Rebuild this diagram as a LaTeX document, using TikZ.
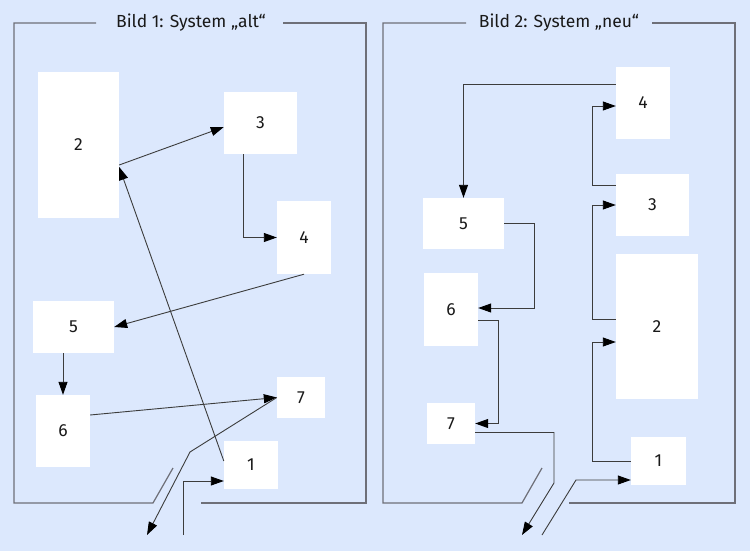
\documentclass[tikz,border=0pt]{standalone}
\usepackage{fontspec}
\setmainfont{Fira Sans}
\usetikzlibrary{arrows.meta}
\definecolor{bgblue}{HTML}{DCE8FD}
\definecolor{framegray}{HTML}{6E6F78}
\definecolor{linegray}{HTML}{3C3C3C}
\begin{document}
\begin{tikzpicture}[x=1pt,y=-1pt,
        box/.style={fill=white,inner sep=0pt,text=black!90,font=\fontsize{17.5}{20}\selectfont},
        frame/.style={draw=framegray,line width=1.2pt},
        conn/.style={draw=linegray,line width=0.9pt,-{Triangle[length=13pt,width=9pt,color=black]}},
        title/.style={font=\fontsize{17.5}{20}\selectfont,text=black!90,inner sep=0pt}]
        \fill[bgblue] (0,0) rectangle (750,551);
        \useasboundingbox (0,0) rectangle (750,551);
        \node[title] (t1) at (191,23) {Bild 1: System „alt“};
        \node[title] (t2) at (559,23) {Bild 2: System „neu“};
        \draw[frame] (96,23) -| (14,503) -- (153,503) -- (173,468);
        \draw[frame] (283,23) -| (366,503) -- (201,503);
        \draw[frame] (466,23) -| (383,503) -- (522,503) -- (542,468);
        \draw[frame] (652,23) -| (735,503) -- (569,503);
        \node[box,minimum width=81pt,minimum height=146pt] (l2) at (78.5,145) {2};
        \node[box,minimum width=73pt,minimum height=62pt] (l3) at (260.5,123) {3};
        \node[box,minimum width=54pt,minimum height=73pt] (l4) at (304,237.5) {4};
        \node[box,minimum width=81pt,minimum height=52pt] (l5) at (73.5,327) {5};
        \node[box,minimum width=54pt,minimum height=72pt] (l6) at (63,431) {6};
        \node[box,minimum width=48pt,minimum height=41pt] (l7) at (301,397.5) {7};
        \node[box,minimum width=54pt,minimum height=48pt] (l1) at (251,465) {1};
        \coordinate (lbend) at (190,452);
        \coordinate (lout) at (147,535);
        \coordinate (lin) at (183,535);
        \draw[conn] ([yshift=-20pt]l2.east) -- ([yshift=-4pt]l3.west);
        \draw[conn] ([xshift=-17.5pt]l3.south) |- (l4.west);
        \draw[conn] (l4.south) -- (l5.east);
        \draw[conn] (l5.south -| l6.north) -- (l6.north);
        \draw[conn] ([yshift=16pt]l6.east) -- (l7.west);
        \draw[conn] ([yshift=4pt]l1.west) -- ([yshift=-22pt]l2.east);
        \draw[conn] (l7.west) -- (lbend) -- (lout);
        \draw[conn] (lin) |- ([yshift=-16pt]l1.west);
        \node[box,minimum width=54pt,minimum height=72pt] (r4) at (643,103) {4};
        \node[box,minimum width=73pt,minimum height=62pt] (r3) at (652.5,205) {3};
        \node[box,minimum width=82pt,minimum height=145pt] (r2) at (657,326.5) {2};
        \node[box,minimum width=81pt,minimum height=51pt] (r5) at (463.5,223.5) {5};
        \node[box,minimum width=54pt,minimum height=73pt] (r6) at (451,309.5) {6};
        \node[box,minimum width=48pt,minimum height=41pt] (r7) at (451,423.5) {7};
        \node[box,minimum width=55pt,minimum height=48pt] (r1) at (658.5,461) {1};
        \coordinate (rbend) at (554,483);
        \coordinate (rout) at (522,535);
        \coordinate (rin) at (542,535);
        \coordinate (rturn) at (576,480);
        \draw[conn] ([yshift=19pt]r4.west) -| (r5.north);
        \draw[conn] ([yshift=20pt]r3.west) -- ++(-23,0) |- ([yshift=-3pt]r4.west);
        \draw[conn] ([yshift=7.5pt]r2.west) -- ++(-23,0) |- (r3.west);
        \draw[conn] (r1.west) -- ++(-38,0) |- ([yshift=-15.5pt]r2.west);
        \draw[conn] (r5.east) -- ++(30,0) |- ([yshift=1.5pt]r6.east);
        \draw[conn] ([yshift=-10.5pt]r6.east) -- ++(20,0) |- (r7.east);
        \draw[conn] ([yshift=-9pt]r7.east) -| (rbend) -- (rout);
        \draw[conn] (rin) -- (rturn) -- ([yshift=-19pt]r1.west);
\end{tikzpicture}
\end{document}
